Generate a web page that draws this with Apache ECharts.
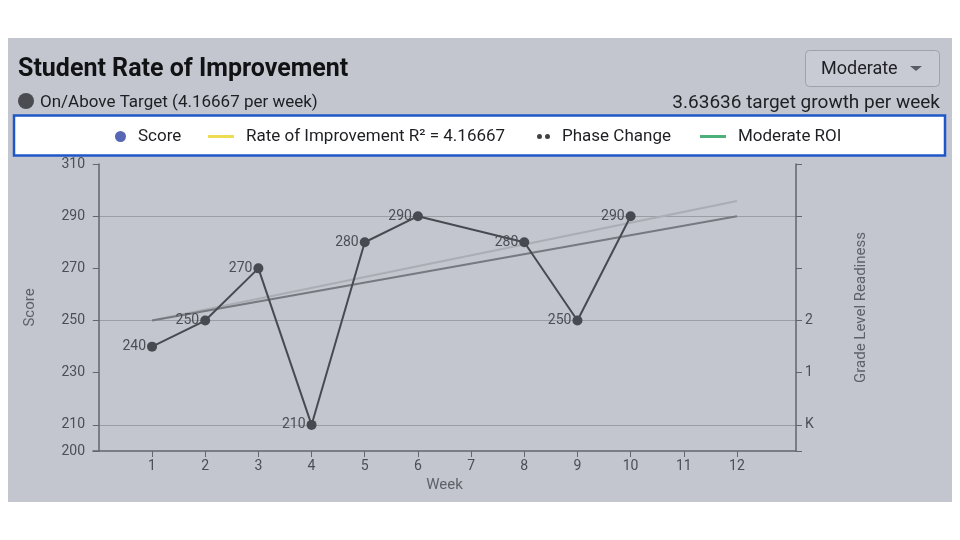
<!DOCTYPE html>
<html>
<head>
<meta charset="utf-8">
<script src="https://cdn.jsdelivr.net/npm/echarts@6/dist/echarts.min.js"></script>
<style>html,body{margin:0;padding:0;background:#fff;}#c{width:960px;height:540px;}</style>
</head>
<body>
<div id="c"></div>
<script>
const weeks = [1, 2, 3, 4, 5, 6, 8, 9, 10];
const scores = [240, 250, 270, 210, 280, 290, 280, 250, 290];
const weekTicks = [1, 2, 3, 4, 5, 6, 7, 8, 9, 10, 11, 12];
const scoreTicks = [200, 210, 230, 250, 270, 290, 310];
const gradeTicks = {210: 'K', 230: '1', 250: '2'};
const rocWeeks = [1, 12];
const rocValues = [250, 295.8];
const moderateWeeks = [1, 12];
const moderateValues = [250, 290];

const FONT = 'Roboto';
const TXT = '#4b4e55';
const GRID = '#9a9da4';
const AXIS = '#62656c';

const chart = echarts.init(document.getElementById('c'));
const legendBase = {
  top: 128, orient: 'horizontal', selectedMode: false, padding: 0,
  textStyle: {fontFamily: FONT, fontSize: 17, color: '#1e1f22', padding: [0, 0, 0, 7]}
};
chart.setOption({
  backgroundColor: '#ffffff',
  textStyle: {fontFamily: FONT},
  title: [
    {text: 'Student Rate of Improvement', left: 13, top: 52,
     textStyle: {fontFamily: FONT, fontSize: 25, fontWeight: 'bold', color: '#111214'}},
    {text: 'On/Above Target (4.16667 per week)', left: 35, top: 89,
     textStyle: {fontFamily: FONT, fontSize: 17, fontWeight: 'normal', color: '#1e1f22'}},
    {text: '3.63636 target growth per week', right: 15, top: 89,
     textStyle: {fontFamily: FONT, fontSize: 19, fontWeight: 'normal', color: '#1e1f22'}}
  ],
  graphic: [
    {type: 'rect', z: -10, shape: {x: 8, y: 38, width: 944, height: 464}, style: {fill: '#c3c6cf'}},
    {type: 'circle', z: -5, shape: {cx: 26, cy: 101, r: 8}, style: {fill: '#4a4c52'}},
    {type: 'rect', z: -5, shape: {x: 805.5, y: 50.5, width: 134, height: 36, r: 4},
     style: {fill: '#c8cbd3', stroke: '#9ea1a8', lineWidth: 1}},
    {type: 'text', z: -4, left: 821, top: 60, style: {text: 'Moderate', font: '18px Roboto', fill: '#1e1f22'}},
    {type: 'polygon', z: -4, shape: {points: [[910, 66], [922, 66], [916, 71]]}, style: {fill: '#5a5d63'}},
    {type: 'rect', z: -5, shape: {x: 14, y: 115.5, width: 931, height: 40}, style: {fill: '#ffffff', stroke: '#1f57c9', lineWidth: 2.5}}
  ],
  legend: [
    Object.assign({}, legendBase, {left: 115, data: ['Score'], icon: 'circle', itemWidth: 11, itemHeight: 11,
      itemStyle: {color: '#5867b5'}}),
    Object.assign({}, legendBase, {left: 208, data: ['Rate of Improvement R² = 4.16667'], icon: 'rect', itemWidth: 26, itemHeight: 3,
      itemStyle: {color: '#efdc55'}}),
    Object.assign({}, legendBase, {left: 537, data: ['Phase Change'],
      icon: 'path://M0,2.5A2.5,2.5 0 1,1 5,2.5A2.5,2.5 0 1,1 0,2.5Z M8,2.5A2.5,2.5 0 1,1 13,2.5A2.5,2.5 0 1,1 8,2.5Z',
      itemWidth: 13, itemHeight: 5, itemStyle: {color: '#111111'}}),
    Object.assign({}, legendBase, {left: 700, data: ['Moderate ROI'], icon: 'rect', itemWidth: 26, itemHeight: 3,
      itemStyle: {color: '#4cb07a'}})
  ],
  grid: {left: 93, right: 164, top: 164, bottom: 89, containLabel: false},
  xAxis: {
    type: 'value', min: -0.11, max: 13.11,
    name: 'Week', nameLocation: 'middle', nameGap: 22,
    nameTextStyle: {fontFamily: FONT, fontSize: 15, color: '#5e6168'},
    axisLine: {show: true, lineStyle: {color: AXIS, width: 1.5}},
    axisTick: {show: true, customValues: weekTicks, length: 6, lineStyle: {color: AXIS}},
    axisLabel: {customValues: weekTicks, fontFamily: FONT, fontSize: 14, color: TXT, margin: 8},
    splitLine: {show: false}
  },
  yAxis: [
    {
      type: 'value', min: 200, max: 310, interval: 10, position: 'left',
      name: 'Score', nameLocation: 'middle', nameGap: 55,
      nameTextStyle: {fontFamily: FONT, fontSize: 15, color: '#5e6168'},
      axisLine: {show: true, lineStyle: {color: AXIS, width: 1.5}},
      axisTick: {show: true, customValues: scoreTicks, length: 6, lineStyle: {color: AXIS}},
      axisLabel: {customValues: scoreTicks, fontFamily: FONT, fontSize: 14, color: TXT, margin: 8},
      splitLine: {show: true, lineStyle: {color: ['rgba(0,0,0,0)', GRID], width: 1.2}}
    },
    {
      type: 'value', min: 200, max: 310, interval: 10, position: 'right',
      name: 'Grade Level Readiness', nameLocation: 'middle', nameGap: 58,
      nameTextStyle: {fontFamily: FONT, fontSize: 15, color: '#5e6168'},
      axisLine: {show: true, lineStyle: {color: AXIS, width: 1.5}},
      axisTick: {show: true, customValues: scoreTicks, length: 6, lineStyle: {color: AXIS}},
      axisLabel: {customValues: scoreTicks, fontFamily: FONT, fontSize: 14, color: TXT, margin: 9,
        formatter: v => gradeTicks[v] || ''},
      splitLine: {show: false}
    }
  ],
  series: [
    {
      name: 'Rate of Improvement R² = 4.16667', type: 'line', showSymbol: false, silent: true,
      data: rocWeeks.map((w, i) => [w, rocValues[i]]),
      lineStyle: {color: '#aaadb3', width: 2}, itemStyle: {color: '#aaadb3'}, z: 2
    },
    {
      name: 'Moderate ROI', type: 'line', showSymbol: false, silent: true,
      data: moderateWeeks.map((w, i) => [w, moderateValues[i]]),
      lineStyle: {color: '#76797f', width: 2}, itemStyle: {color: '#76797f'}, z: 2
    },
    {
      name: 'Phase Change', type: 'scatter', data: [], itemStyle: {color: '#111111'}
    },
    {
      name: 'Score', type: 'line', symbol: 'circle', symbolSize: 10,
      data: weeks.map((w, i) => [w, scores[i]]),
      lineStyle: {color: '#474a50', width: 2}, itemStyle: {color: '#474a50'},
      label: {show: true, position: 'left', distance: 1, fontFamily: FONT, fontSize: 14, color: TXT},
      z: 4
    }
  ]
});
</script>
</body>
</html>
